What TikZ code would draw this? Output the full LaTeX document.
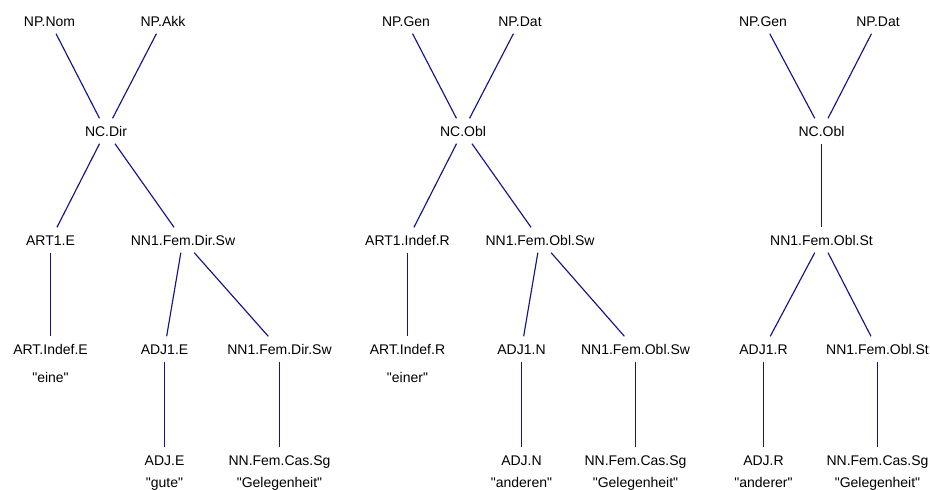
\documentclass[tikz,border=0pt]{standalone}
\usepackage{fontspec}
\setmainfont{Liberation Sans}[Ligatures=TeXOff]
\definecolor{edgeblue}{RGB}{20,20,135}
\begin{document}
\begin{tikzpicture}[x=1pt,y=-1pt,
  lab/.style={font=\fontsize{14}{16}\selectfont, text height=10pt, text depth=0pt,
    inner xsep=2pt, inner ysep=7.5pt, text=black},
  edge/.style={draw=edgeblue, line width=1.15pt}]
\useasboundingbox (0,0) rectangle (930,490);
% tree 1
\node[lab] (nom) at (49.5,21) {NP.Nom};
\node[lab] (akk) at (163,21) {NP.Akk};
\node[lab] (ncd) at (106,131) {NC.Dir};
\node[lab] (art1) at (50.5,240) {ART1.E};
\node[lab] (nn1a) at (183,240) {NN1.Fem.Dir.Sw};
\node[lab] (artia) at (50.5,349) {ART.Indef.E};
\node[lab] (eine) at (50.5,377) {"eine"};
\node[lab] (adj1e) at (164.5,349) {ADJ1.E};
\node[lab] (nn1b) at (279.5,349) {NN1.Fem.Dir.Sw};
\node[lab] (adje) at (164.5,460) {ADJ.E};
\node[lab] (gute) at (164.5,482) {"gute"};
\node[lab] (nncas1) at (279.5,460) {NN.Fem.Cas.Sg};
\node[lab] (gel1) at (279.5,482) {"Gelegenheit"};
% tree 2
\node[lab] (gen2) at (406,21) {NP.Gen};
\node[lab] (dat2) at (520,21) {NP.Dat};
\node[lab] (nco2) at (463,131) {NC.Obl};
\node[lab] (art12) at (407.5,240) {ART1.Indef.R};
\node[lab] (nn1c) at (540,240) {NN1.Fem.Obl.Sw};
\node[lab] (arti2) at (407.5,349) {ART.Indef.R};
\node[lab] (einer) at (407.5,377) {"einer"};
\node[lab] (adj1n) at (521.5,349) {ADJ1.N};
\node[lab] (nn1d) at (635.5,349) {NN1.Fem.Obl.Sw};
\node[lab] (adjn) at (521.5,460) {ADJ.N};
\node[lab] (anderen) at (521.5,482) {"anderen"};
\node[lab] (nncas2) at (635.5,460) {NN.Fem.Cas.Sg};
\node[lab] (gel2) at (635.5,482) {"Gelegenheit"};
% tree 3
\node[lab] (gen3) at (763,21) {NP.Gen};
\node[lab] (dat3) at (878,21) {NP.Dat};
\node[lab] (nco3) at (821.5,131) {NC.Obl};
\node[lab] (nn1e) at (821.5,240) {NN1.Fem.Obl.St};
\node[lab] (adj1r) at (763.5,349) {ADJ1.R};
\node[lab] (nn1f) at (877.5,349) {NN1.Fem.Obl.St};
\node[lab] (adjr) at (763.5,460) {ADJ.R};
\node[lab] (anderer) at (763.5,482) {"anderer"};
\node[lab] (nncas3) at (877.5,460) {NN.Fem.Cas.Sg};
\node[lab] (gel3) at (877.5,482) {"Gelegenheit"};
% edges
\draw[edge] (nom) -- (ncd);
\draw[edge] (akk) -- (ncd);
\draw[edge] (ncd) -- (art1);
\draw[edge] (ncd) -- (nn1a);
\draw[edge] (art1) -- (artia);
\draw[edge] (nn1a) -- (adj1e);
\draw[edge] (nn1a) -- (nn1b);
\draw[edge] (adj1e) -- (adje);
\draw[edge] (nn1b) -- (nncas1);
\draw[edge] (gen2) -- (nco2);
\draw[edge] (dat2) -- (nco2);
\draw[edge] (nco2) -- (art12);
\draw[edge] (nco2) -- (nn1c);
\draw[edge] (art12) -- (arti2);
\draw[edge] (nn1c) -- (adj1n);
\draw[edge] (nn1c) -- (nn1d);
\draw[edge] (adj1n) -- (adjn);
\draw[edge] (nn1d) -- (nncas2);
\draw[edge] (gen3) -- (nco3);
\draw[edge] (dat3) -- (nco3);
\draw[edge] (nco3) -- (nn1e);
\draw[edge] (nn1e) -- (adj1r);
\draw[edge] (nn1e) -- (nn1f);
\draw[edge] (adj1r) -- (adjr);
\draw[edge] (nn1f) -- (nncas3);
\end{tikzpicture}
\end{document}
